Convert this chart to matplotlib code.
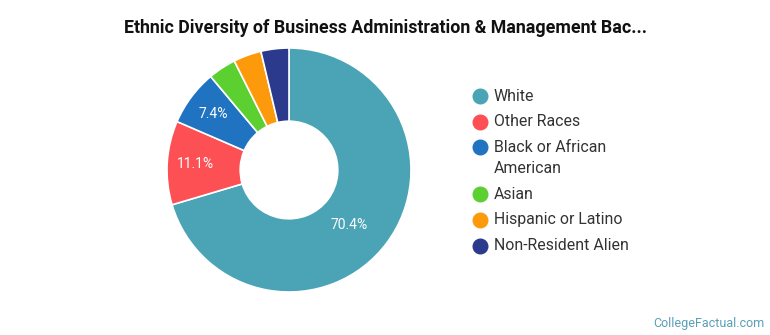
import numpy as np
import matplotlib.pyplot as plt
from matplotlib.lines import Line2D

plt.rcParams['font.family'] = ['Roboto', 'DejaVu Sans']

categories = ["White", "Other Races", "Black or African\nAmerican", "Asian",
              "Hispanic or Latino", "Non-Resident Alien"]
shares = [70.4, 11.1, 7.4, 3.7, 3.7, 3.7]
colors = ["#4ba3b6", "#fd5054", "#1f73c0", "#5ccf31", "#fd9a0c", "#2b3a8d"]

W, H = 770, 335
fig = plt.figure(figsize=(W / 100, H / 100), dpi=100)

cx, cy, r = 289, 170, 122
ax = fig.add_axes([(cx - r) / W, (H - cy - r) / H, 2 * r / W, 2 * r / H])


def pct(v):
    return "%.1f%%" % v if v > 5 else ""


wedges, texts, autotexts = ax.pie(
    shares, colors=colors, startangle=90, counterclock=False, radius=1,
    autopct=pct, pctdistance=0.77,
    wedgeprops=dict(width=0.6, edgecolor="white", linewidth=1.2),
    textprops=dict(color="white", fontsize=10))
# the big slice label sits a bit closer to the hole
w0 = wedges[0]
mid = np.radians((w0.theta1 + w0.theta2) / 2 - 6)
autotexts[0].set_position((0.67 * np.cos(mid), 0.67 * np.sin(mid)))
ax.set_xlim(-1, 1)
ax.set_ylim(-1, 1)
ax.axis("off")

fig.text(0.5, 1 - 28 / H, "Ethnic Diversity of Business Administration & Management Bac...",
         ha="center", va="center", fontsize=12.8, fontweight="bold", color="#111111")

# legend, drawn by hand so the dot lines up with the first text line
y = 96
for name, c in zip(categories, colors):
    fig.add_artist(Line2D([480 / W], [1 - y / H], marker="o", linestyle="none",
                          markersize=10.5, markerfacecolor=c, markeredgecolor=c,
                          transform=fig.transFigure))
    lines = name.split("\n")
    for i, ln in enumerate(lines):
        fig.text(494 / W, 1 - (y + 21.5 * i) / H, ln, ha="left", va="center",
                 fontsize=11.4, color="#333333")
    y += 25.6 + 21.5 * (len(lines) - 1)

fig.text(1 - 6 / W, 12 / H, "CollegeFactual.com", ha="right", va="center",
         fontsize=9, color="#5a9fb6")

fig.savefig("out.png", dpi=100)
